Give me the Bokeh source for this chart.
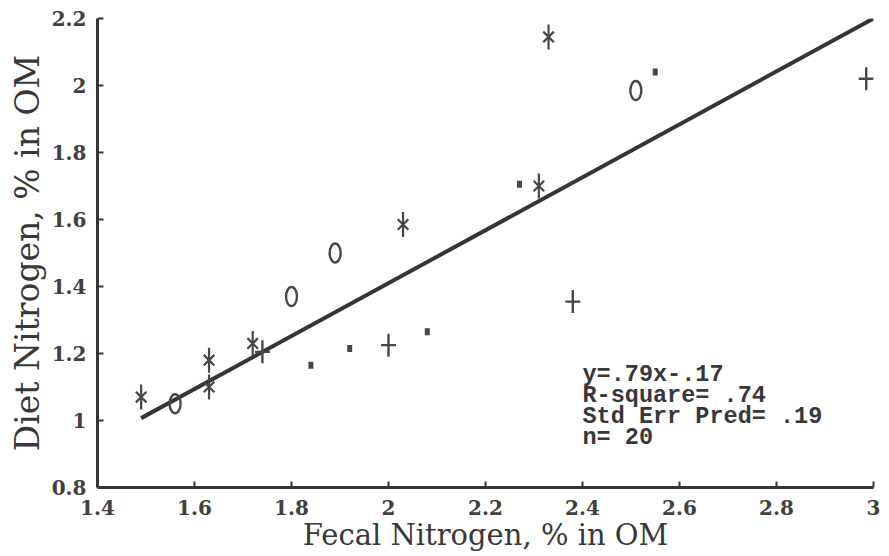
import numpy as np
from bokeh.plotting import figure
from bokeh.models import Range1d, FixedTicker, Label
from bokeh.embed import file_html
from bokeh.resources import INLINE

# ---- data ----
star_x = [1.49, 1.63, 1.63, 1.72, 2.03, 2.31, 2.33]
star_y = [1.07, 1.18, 1.10, 1.23, 1.585, 1.70, 2.145]
diam_x = [1.56, 1.80, 1.89, 2.51]
diam_y = [1.05, 1.37, 1.50, 1.985]
sq_x = [1.84, 1.92, 2.08, 2.27, 2.55]
sq_y = [1.165, 1.215, 1.265, 1.705, 2.04]
plus_x = [1.74, 2.00, 2.38, 2.985]
plus_y = [1.205, 1.225, 1.355, 2.02]

slope = 0.79
intercept = -0.17
fit_x = [1.49, 3.0]
fit_y = [slope * v + intercept for v in fit_x]

x_ticks = [1.4, 1.6, 1.8, 2.0, 2.2, 2.4, 2.6, 2.8, 3.0]
y_ticks = [0.8, 1.0, 1.2, 1.4, 1.6, 1.8, 2.0, 2.2]
stats_lines = ["y=.79x-.17", "R-square= .74", "Std Err Pred= .19", "n= 20"]
x_title = "Fecal Nitrogen, % in OM"
y_title = "Diet Nitrogen, % in OM"

INK = "#353535"
MARK = "#474747"

p = figure(frame_width=776, frame_height=469, output_backend="svg", toolbar_location=None,
           x_range=Range1d(1.4, 3.0), y_range=Range1d(0.8, 2.2),
           min_border_left=97, min_border_right=8, min_border_top=18, min_border_bottom=66)
p.outline_line_color = None
p.grid.grid_line_color = None
p.background_fill_color = "white"
p.border_fill_color = "white"

# regression line
p.line(fit_x, fit_y, line_width=4, line_color=INK)

# stars (Ж-like): x + vertical bar
p.scatter(star_x, star_y, marker="x", size=15, line_width=2.2, line_color=MARK)
p.scatter(star_x, star_y, marker="dash", angle=np.pi / 2, size=25, line_width=2.2, line_color=MARK)
# diamonds (hollow, tall)
p.ellipse(diam_x, diam_y, width=11, height=19, width_units="screen", height_units="screen",
          fill_color=None, line_color=MARK, line_width=2.4)
# small filled squares
p.rect(sq_x, sq_y, width=5, height=7, width_units="screen", height_units="screen",
       fill_color=MARK, line_color=None)
# plus
p.scatter(plus_x, plus_y, marker="dash", size=15, line_width=2.4, line_color=MARK)
p.scatter(plus_x, plus_y, marker="dash", angle=np.pi / 2, size=23, line_width=2.4, line_color=MARK)

# axes
for ax in (p.xaxis[0], p.yaxis[0]):
    ax.axis_line_width = 3
    ax.axis_line_color = INK
    ax.major_tick_in = 6
    ax.major_tick_out = 0
    ax.major_tick_line_width = 2
    ax.major_tick_line_color = INK
    ax.minor_tick_line_color = None
    ax.major_label_text_font = "DejaVu Serif"
    ax.major_label_text_font_style = "bold"
    ax.major_label_text_font_size = "20px"
    ax.major_label_text_color = "#404040"
    ax.axis_label_text_font = "DejaVu Serif"
    ax.axis_label_text_font_style = "normal"
    ax.axis_label_text_color = "#383838"

p.xaxis.ticker = FixedTicker(ticks=x_ticks)
p.yaxis.ticker = FixedTicker(ticks=y_ticks)
p.xaxis.major_label_overrides = {v: ("%g" % v) for v in x_ticks}
p.yaxis.major_label_overrides = {v: ("%g" % v) for v in y_ticks}
p.xaxis.major_label_standoff = 12
p.yaxis.major_label_standoff = 11
p.xaxis.axis_label = x_title
p.xaxis.axis_label_text_font_size = "29px"
p.xaxis.axis_label_standoff = 0
p.yaxis.axis_label = y_title
p.yaxis.axis_label_text_font_size = "33px"
p.yaxis.axis_label_standoff = 2

# statistics text
stat_y = [1.138, 1.075, 1.012, 0.949]
for txt, yy in zip(stats_lines, stat_y):
    p.add_layout(Label(x=2.4, y=yy, text=txt, text_font="Liberation Mono",
                       text_font_style="bold", text_font_size="23.5px",
                       text_color="#383838", text_baseline="middle", text_align="left"))

open("out.html", "w").write(file_html(p, INLINE))
